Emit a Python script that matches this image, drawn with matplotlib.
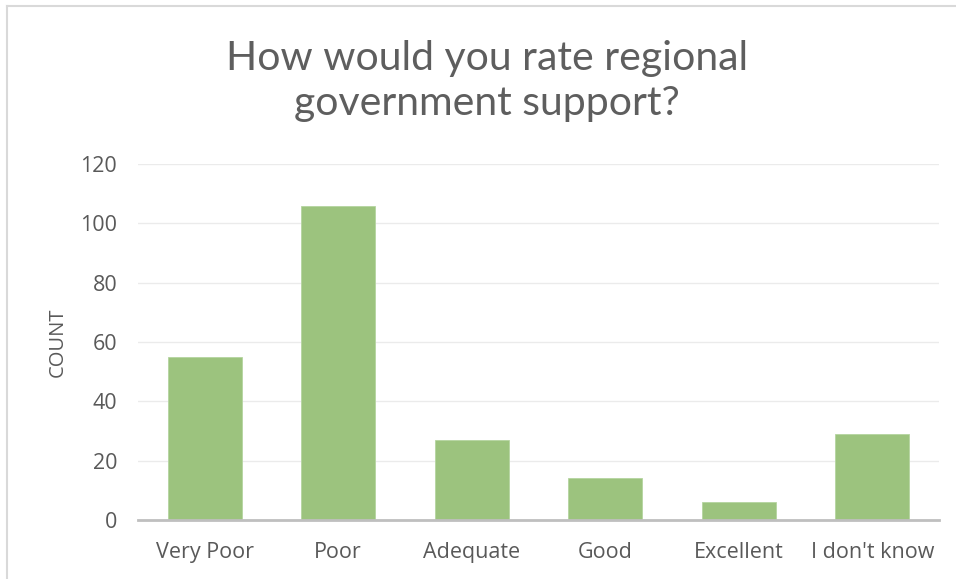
import matplotlib
matplotlib.use("Agg")
import matplotlib.pyplot as plt
from matplotlib.lines import Line2D

categories = ["Very Poor", "Poor", "Adequate", "Good", "Excellent", "I don't know"]
counts = [55, 106, 27, 14, 6, 29]
y_ticks = [0, 20, 40, 60, 80, 100, 120]

title = "How would you rate regional\ngovernment support?"
y_label = "COUNT"

bar_color = "#9CC37E"
text_color = "#595959"

plt.rcParams["font.family"] = ["Open Sans", "DejaVu Sans"]

fig = plt.figure(figsize=(9.56, 5.79), dpi=100)
ax = fig.add_axes([138 / 956, 0.1019, 801 / 956, 0.6149])

x = range(len(categories))
ax.bar(x, counts, width=0.555, color=bar_color, edgecolor="#B5D5A0", linewidth=0.6, zorder=3)

ax.set_xlim(-0.5, len(categories) - 0.5)
ax.set_ylim(0, 120)
ax.set_yticks(y_ticks)
ax.set_yticklabels([str(v) for v in y_ticks])
ax.set_xticks(list(x))
ax.set_xticklabels(categories)

ax.grid(axis="y", color="#EBEBEB", linewidth=1.0, zorder=0)
ax.tick_params(axis="x", length=0, labelsize=15.5, colors=text_color, pad=16)
ax.tick_params(axis="y", length=0, labelsize=15.5, colors=text_color, pad=15)

for side in ("top", "right", "left"):
    ax.spines[side].set_visible(False)
ax.spines["bottom"].set_color("#BFBFBF")
ax.spines["bottom"].set_linewidth(2.0)
ax.spines["bottom"].set_zorder(4)

ax.set_ylabel(y_label, fontsize=14.5, color=text_color, labelpad=9)

fig.text(0.509, 0.860, title, ha="center", va="center", fontsize=29.5,
         color="#5E5E5E", family=["Lato", "DejaVu Sans"], linespacing=1.28)

# frame lines along the top and left edges
fig.add_artist(Line2D([7 / 956, 1.0], [1 - 6 / 579, 1 - 6 / 579], transform=fig.transFigure,
                      color="#D9D9D9", linewidth=1.5))
fig.add_artist(Line2D([7 / 956, 7 / 956], [0.0, 1 - 6 / 579], transform=fig.transFigure,
                      color="#D9D9D9", linewidth=1.5))

fig.savefig("out.png", dpi=100)
